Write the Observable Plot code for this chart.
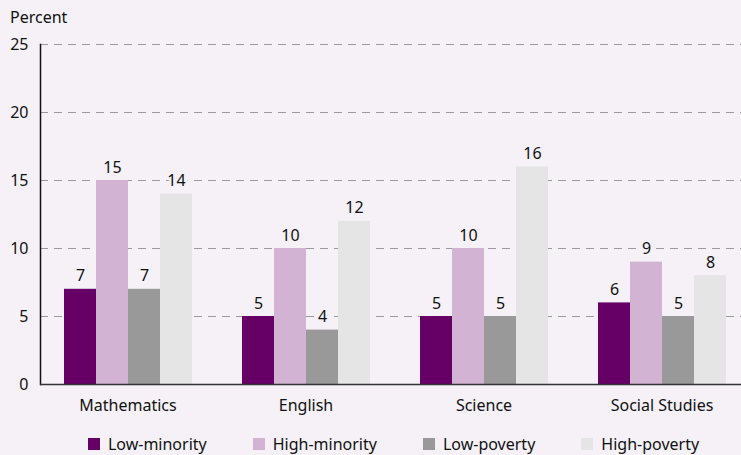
<!DOCTYPE html>
<html><head><meta charset="utf-8">
<script src="https://cdn.jsdelivr.net/npm/d3@7"></script>
<script src="https://cdn.jsdelivr.net/npm/@observablehq/plot@0.6"></script>
<style>
html,body{margin:0;padding:0;background:#f5f1f7;}
body{width:741px;height:455px;overflow:hidden;font-family:"Noto Sans",sans-serif;color:#111;position:relative;}
#title{position:absolute;left:10px;top:6px;font-size:16px;}
#legend{position:absolute;top:433px;left:0;width:787px;display:flex;justify-content:center;gap:46px;font-size:16px;}
.item{display:flex;align-items:center;gap:8px;}
.sw{width:12px;height:12px;display:inline-block;}
#chart svg{position:absolute;left:0;top:0;overflow:visible;}
</style></head>
<body>
<div id="title">Percent</div>
<div id="chart"></div>
<div id="legend"></div>
<script>
const subjects = ["Mathematics", "English", "Science", "Social Studies"];
const groups = ["Low-minority", "High-minority", "Low-poverty", "High-poverty"];
const colors = ["#660066", "#d3b3d3", "#999999", "#e5e5e5"];
const lowMinority = [7, 5, 5, 6];
const highMinority = [15, 10, 10, 9];
const lowPoverty = [7, 4, 5, 5];
const highPoverty = [14, 12, 16, 8];
const yTicks = [0, 5, 10, 15, 20, 25];

const seriesValues = [lowMinority, highMinority, lowPoverty, highPoverty];
const data = [];
subjects.forEach((s, i) => groups.forEach((g, j) => data.push({subject: s, group: g, value: seriesValues[j][i]})));

const bg = "#f5f1f7";
const common = {
  width: 741, height: 420,
  marginLeft: 40, marginRight: -8, marginTop: 44, marginBottom: 36,
  style: {background: "transparent", fontFamily: "Noto Sans, sans-serif", fontSize: "16px", color: "#111"}
};

// background: grid and y axis
const back = Plot.plot({
  ...common,
  y: {domain: [0, 25], ticks: yTicks, label: null},
  marks: [
    Plot.ruleY(yTicks.filter(d => d > 0), {stroke: "#9a9a9a", strokeDasharray: "8,6", strokeWidth: 1.2}),
    Plot.axisY({ticks: yTicks, tickSize: 0, tickPadding: 12, fontSize: 16, label: null})
  ]
});

// bars
const front = Plot.plot({
  ...common,
  y: {domain: [0, 25], axis: null},
  fx: {domain: subjects, paddingInner: 0.275, paddingOuter: 0.129, label: null},
  x: {domain: groups, padding: 0, axis: null},
  color: {domain: groups, range: colors},
  marks: [
    Plot.barY(data, {fx: "subject", x: "group", y: "value", fill: "group"}),
    Plot.text(data, {fx: "subject", x: "group", y: "value", text: d => String(d.value), lineAnchor: "bottom", dy: -8, fontSize: 16, fill: "#111", stroke: bg, strokeWidth: 5, paintOrder: "stroke"}),
    Plot.axisFx({anchor: "bottom", tickSize: 0, tickPadding: 15, fontSize: 16, label: null})
  ]
});

// axis lines
const lines = Plot.plot({
  ...common,
  y: {domain: [0, 25], axis: null},
  marks: [
    Plot.frame({anchor: "left", stroke: "#111", strokeWidth: 1.5}),
    Plot.ruleY([0], {stroke: "#333", strokeWidth: 1.5})
  ]
});

const c = document.getElementById("chart");
c.appendChild(back); c.appendChild(front); c.appendChild(lines);

const leg = document.getElementById("legend");
groups.forEach((g, i) => {
  const it = document.createElement("div"); it.className = "item";
  const sw = document.createElement("span"); sw.className = "sw"; sw.style.background = colors[i];
  const t = document.createElement("span"); t.textContent = g;
  it.appendChild(sw); it.appendChild(t); leg.appendChild(it);
});
</script>
</body></html>
